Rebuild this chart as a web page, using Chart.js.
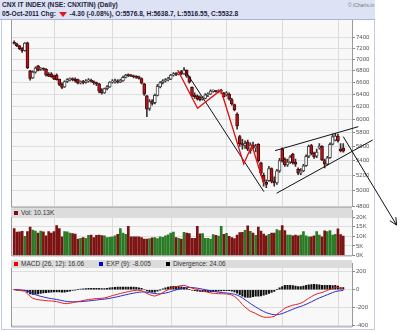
<!DOCTYPE html>
<html>
<head>
<meta charset="utf-8">
<title>CNX IT INDEX</title>
<script src="https://cdn.jsdelivr.net/npm/chart.js@4.4.1/dist/chart.umd.min.js"></script>
<style>
  html, body { margin: 0; padding: 0; background: #fff; }
  #wrap { position: relative; width: 400px; height: 331px; overflow: hidden; font-family: "Liberation Sans", Arial, sans-serif; }
  #frame { position: absolute; left: 1px; top: 0; width: 372px; height: 329px; border: 1px solid #c3cdea; border-top: none; }
  #head { position: absolute; left: 0; top: 0; width: 375px; height: 19px; background: #dde3f5; border-bottom: 1px solid #aab4d4; color: #1d1d3a; font-weight: bold; font-size: 6.6px; line-height: 8px; z-index: 1; }
  #head .t1 { position: absolute; left: 2px; top: 1px; white-space: nowrap; }
  #head .t2 { position: absolute; left: 2px; top: 10px; white-space: nowrap; }
  #head .src { position: absolute; left: 348px; top: 1px; font-weight: normal; font-size: 5px; color: #777; white-space: nowrap; }
  .dn { display: inline-block; width: 0; height: 0; border-left: 4px solid transparent; border-right: 4px solid transparent; border-top: 5px solid #e01818; vertical-align: middle; margin: 0 1px; }
  .strip { position: absolute; left: 11px; width: 341px; background: #dcdcdc; color: #333; font-size: 6.5px; line-height: 9px; white-space: nowrap; z-index: 2; }
  .strip i { display: inline-block; width: 4px; height: 4px; margin: 0 3px 0 3px; vertical-align: 0; }
  .strip span { margin-right: 12px; }
  canvas { position: absolute; left: 0; }
  #volCanvas { top: 206px; z-index: 1; }
  #macdCanvas { top: 259px; z-index: 1; }
  #priceCanvas { top: 0; z-index: 3; pointer-events: none; }
</style>
</head>
<body>
<div id="wrap">
  <div id="frame"></div>
  <div id="head">
    <div class="t1">CNX IT INDEX (NSE: CNXITIN) (Daily)</div>
    <div class="t2" id="quote"></div>
    <div class="src">© iCharts.in</div>
  </div>
  <canvas id="volCanvas" width="400" height="54"></canvas>
  <canvas id="macdCanvas" width="400" height="72"></canvas>
  <div class="strip" id="volStrip" style="top:208px;height:9px;"></div>
  <div class="strip" id="macdStrip" style="top:260px;height:8px;line-height:8px;"></div>
  <canvas id="priceCanvas" width="400" height="235"></canvas>
</div>
<script>
// -------- Daily OHLC, CNX IT, Apr - Oct 2011 --------
const lastDate = "05-Oct-2011";
const opens = [
  7300, 7275, 7240, 7195, 7150, 7295, 6790, 6670, 6770, 6880,
  6820, 6830, 6820, 6730, 6740, 6700, 6720, 6650, 6560, 6520,
  6610, 6640, 6650, 6650, 6640, 6590, 6600, 6590, 6620, 6630,
  6610, 6590, 6570, 6470, 6420, 6490, 6520, 6600, 6600, 6620,
  6600, 6620, 6680, 6720, 6710, 6700, 6690, 6690, 6660, 6570,
  6370, 6170, 6290, 6260, 6380, 6520, 6590, 6620, 6640, 6650,
  6720, 6740, 6730, 6780, 6740, 6800, 6690, 6510, 6380, 6370,
  6350, 6320, 6330, 6390, 6400, 6450, 6450, 6440, 6450, 6420,
  6390, 6400, 6310, 6230, 6080, 5740, 5640, 5610, 5660, 5540,
  5620, 5580, 5630, 5370, 5200, 5110, 5130, 5290, 5120, 5100,
  5260, 5560, 5420, 5340, 5380, 5490, 5380, 5280, 5230, 5260,
  5330, 5460, 5610, 5500, 5460, 5580, 5600, 5400, 5350, 5440,
  5630, 5690, 5750, 5560, 5576.8
];
const highs = [
  7335, 7290, 7250, 7210, 7300, 7310, 6800, 6790, 6860, 6890,
  6850, 6845, 6830, 6760, 6760, 6720, 6740, 6650, 6590, 6620,
  6660, 6670, 6670, 6670, 6650, 6620, 6630, 6640, 6660, 6650,
  6620, 6600, 6580, 6490, 6500, 6540, 6610, 6640, 6650, 6640,
  6650, 6700, 6730, 6740, 6730, 6720, 6710, 6700, 6670, 6580,
  6380, 6310, 6310, 6400, 6560, 6610, 6640, 6660, 6680, 6730,
  6760, 6760, 6780, 6800, 6850, 6810, 6700, 6520, 6420, 6390,
  6370, 6360, 6410, 6420, 6470, 6470, 6460, 6470, 6480, 6430,
  6440, 6420, 6330, 6240, 6100, 5760, 5700, 5680, 5690, 5650,
  5660, 5630, 5640, 5380, 5230, 5140, 5320, 5300, 5180, 5280,
  5430, 5580, 5440, 5420, 5470, 5500, 5420, 5300, 5290, 5350,
  5480, 5620, 5630, 5520, 5560, 5640, 5610, 5420, 5460, 5650,
  5780, 5790, 5780, 5640, 5638.7
];
const lows = [
  7270, 7225, 7170, 7120, 7140, 6830, 6630, 6660, 6750, 6790,
  6800, 6800, 6700, 6690, 6680, 6640, 6630, 6540, 6490, 6510,
  6590, 6620, 6620, 6600, 6570, 6570, 6570, 6580, 6600, 6600,
  6560, 6540, 6420, 6400, 6410, 6470, 6510, 6580, 6580, 6580,
  6590, 6610, 6670, 6690, 6690, 6670, 6660, 6650, 6570, 6380,
  6040, 6140, 6220, 6240, 6370, 6500, 6570, 6600, 6620, 6640,
  6700, 6710, 6720, 6720, 6730, 6680, 6580, 6360, 6330, 6300,
  6290, 6300, 6320, 6360, 6390, 6430, 6430, 6420, 6410, 6350,
  6370, 6300, 6220, 6130, 5850, 5600, 5560, 5570, 5540, 5500,
  5560, 5520, 5380, 5200, 5060, 5040, 5120, 5100, 5060, 5080,
  5240, 5380, 5320, 5320, 5360, 5350, 5320, 5210, 5210, 5250,
  5320, 5440, 5480, 5430, 5440, 5560, 5400, 5300, 5340, 5430,
  5620, 5680, 5660, 5520, 5516.55
];
const closes = [
  7285, 7240, 7190, 7150, 7290, 6845, 6660, 6770, 6840, 6800,
  6830, 6820, 6720, 6700, 6690, 6650, 6640, 6560, 6510, 6610,
  6640, 6650, 6640, 6620, 6580, 6600, 6590, 6620, 6630, 6610,
  6590, 6570, 6450, 6420, 6490, 6520, 6600, 6610, 6620, 6600,
  6630, 6680, 6720, 6710, 6700, 6690, 6680, 6660, 6580, 6400,
  6160, 6280, 6250, 6380, 6530, 6590, 6620, 6640, 6650, 6720,
  6740, 6730, 6760, 6740, 6810, 6700, 6600, 6380, 6360, 6320,
  6310, 6330, 6390, 6400, 6450, 6450, 6440, 6450, 6460, 6360,
  6420, 6320, 6240, 6150, 5900, 5640, 5620, 5640, 5560, 5620,
  5580, 5600, 5400, 5230, 5120, 5080, 5290, 5120, 5100, 5260,
  5400, 5400, 5340, 5380, 5450, 5370, 5350, 5230, 5260, 5330,
  5460, 5600, 5500, 5450, 5520, 5600, 5410, 5350, 5440, 5630,
  5740, 5750, 5680, 5537.1, 5532.8
];
// volume in thousands
const volumes = [
  14.1, 12.2, 12.4, 12.6, 10.0, 12.5, 14.8, 13.3, 12.8, 11.7,
  12.8, 12.4, 10.2, 12.5, 11.7, 12.5, 15.6, 14.1, 9.8, 12.5,
  12.4, 11.7, 11.5, 11.2, 8.6, 9.0, 9.4, 9.0, 10.5, 10.6,
  9.4, 10.5, 10.6, 10.4, 10.2, 9.4, 9.5, 9.8, 10.2, 11.0,
  14.1, 11.7, 11.0, 15.2, 9.8, 9.8, 9.8, 9.8, 9.4, 8.6,
  8.6, 8.8, 9.2, 9.4, 8.8, 9.8, 9.5, 10.2, 10.8, 11.7,
  12.2, 9.4, 9.0, 8.6, 12.1, 11.7, 11.4, 9.0, 8.9, 15.2,
  11.3, 11.4, 9.0, 9.0, 8.6, 10.9, 10.5, 10.1, 15.2, 11.0,
  11.6, 10.0, 9.3, 8.8, 10.6, 12.0, 12.1, 13.1, 15.5, 12.6,
  11.7, 10.5, 14.8, 12.8, 11.2, 10.2, 11.0, 11.7, 11.7, 13.6,
  13.0, 15.6, 13.0, 10.6, 10.6, 10.2, 10.6, 10.2, 10.6, 12.5,
  10.2, 9.8, 9.8, 10.2, 12.5, 10.6, 9.8, 12.9, 12.5, 13.0,
  10.6, 11.0, 14.0, 10.9, 10.13
];
// MACD (26,12), signal EXP (9), divergence
const macdLine = [
  0, -2, -6, -12, -18, -45, -75, -95, -105, -112,
  -115, -118, -122, -124, -126, -128, -133, -140, -148, -154,
  -155, -150, -144, -138, -132, -127, -120, -115, -110, -106,
  -102, -99, -97, -96, -92, -85, -75, -66, -58, -50,
  -42, -35, -28, -22, -16, -10, -7, -6, -10, -25,
  -42, -55, -65, -71, -62, -48, -32, -15, 0, 15,
  27, 35, 40, 46, 48, 40, 28, 18, 10, 2,
  -8, -16, -22, -28, -36, -40, -42, -44, -45, -46,
  -47, -52, -60, -75, -98, -130, -165, -195, -218, -240,
  -252, -265, -282, -295, -305, -308, -306, -304, -298, -275,
  -252, -230, -205, -192, -182, -172, -166, -160, -150, -135,
  -115, -95, -78, -60, -47, -38, -32, -20, -8, 4,
  15, 27, 25, 14, 16.06
];
const signalLine = [
  0, -1, -2, -4, -7, -15, -28, -42, -55, -65,
  -74, -81, -88, -94, -99, -104, -109, -115, -121, -127,
  -132, -134, -135, -135, -134, -133, -131, -128, -125, -122,
  -118, -115, -111, -108, -105, -101, -96, -90, -84, -78,
  -71, -64, -57, -50, -44, -38, -33, -28, -25, -25,
  -28, -33, -38, -43, -46, -46, -43, -37, -30, -21,
  -11, -2, 6, 14, 21, 25, 26, 24, 21, 17,
  12, 6, 0, -6, -12, -18, -23, -27, -31, -34,
  -37, -40, -44, -50, -60, -74, -92, -112, -133, -154,
  -174, -192, -210, -227, -243, -256, -266, -274, -279, -279,
  -274, -266, -254, -242, -230, -218, -206, -195, -186, -175,
  -163, -149, -135, -120, -105, -92, -80, -68, -56, -44,
  -32, -21, -15, -11, -8.005
];
const divergence = [
  0, -1, -4, -8, -11, -30, -47, -53, -50, -47,
  -41, -37, -34, -30, -27, -24, -24, -25, -27, -27,
  -23, -16, -9, -3, 2, 6, 11, 13, 15, 16,
  16, 16, 14, 12, 13, 16, 21, 24, 26, 28,
  29, 29, 29, 28, 28, 28, 26, 22, 15, 0,
  -14, -22, -27, -28, -16, -2, 11, 22, 30, 36,
  38, 37, 34, 32, 27, 15, 2, -6, -11, -15,
  -20, -22, -22, -22, -24, -22, -19, -17, -14, -12,
  -10, -12, -16, -25, -38, -56, -73, -83, -85, -86,
  -78, -73, -72, -68, -62, -52, -40, -30, -19, 4,
  22, 36, 49, 50, 48, 46, 40, 35, 36, 40,
  48, 54, 57, 60, 58, 54, 48, 48, 48, 48,
  47, 48, 40, 25, 24.06
];
// index of first session of May .. Oct
const monthStarts = [15, 37, 59, 80, 101, 122];
const priceTicks = [4800, 5000, 5200, 5400, 5600, 5800, 6000, 6200, 6400, 6600, 6800, 7000, 7200, 7400];
const volumeTicks = [0, 5, 10, 15, 20];
const macdTicks = [-400, -200, 0, 200];

// hand drawn studies, [session index, price]
const fallLine = [[64.1, 6819], [94.1, 4988]];
const wedgeUpper = [[98.3, 5539], [129.7, 5889]];
const wedgeLower = [[98.9, 4968], [135.1, 5692]];
const swingPath = [[61.6, 6807], [69.1, 6172], [77.9, 6468], [86.5, 5354], [89.6, 5613], [94.0, 5096]];
const breakArrow = [[124.0, 5741], [144.1, 4580]];

// -------- Header texts --------
const n = closes.length - 1;
const chg = closes[n] - closes[n - 1];
document.getElementById("quote").innerHTML =
  `${lastDate} Chg: <span class="dn"></span> ${chg.toFixed(2)} (${(chg / closes[n - 1] * 100).toFixed(2)}%), ` +
  `O:${opens[n]}, H:${highs[n]}, L:${lows[n]}, C:${closes[n]}`;
document.getElementById("volStrip").innerHTML =
  `<i style="background:#7a1010"></i>Vol: ${volumes[n]}K`;
document.getElementById("macdStrip").innerHTML =
  `<span><i style="background:#e00"></i>MACD (26, 12): ${macdLine[n]}</span>` +
  `<span><i style="background:#0000d0"></i>EXP (9): ${signalLine[n]}</span>` +
  `<span><i style="background:#000"></i>Divergence: ${divergence[n]}</span>`;

// -------- Shared pieces --------
const days = closes.map((_, i) => i);
const isUp = i => closes[i] >= opens[i];
const tickFont = { family: "Liberation Sans", size: 6 };
const xAxis = { type: "linear", min: -1.206, max: 127.3, offset: false, display: false };

function rightAxis(extra) {
  return Object.assign({
    position: "right",
    afterFit: s => { s.width = 48; },
    grid: { color: "#dedede", lineWidth: 1, drawTicks: true, tickLength: 3, tickColor: "#888" },
    border: { display: true, color: "#9a9a9a" },
    ticks: { color: "#555", font: tickFont, padding: 1, autoSkip: false }
  }, extra);
}

const panelFrame = {
  id: "panelFrame",
  beforeDraw(chart) {
    const { ctx, chartArea: a, scales: { x } } = chart;
    ctx.save();
    ctx.fillStyle = "#f8f8f8";
    ctx.fillRect(a.left, a.top, a.width, a.height);
    ctx.strokeStyle = "#dcdcdc";
    ctx.lineWidth = 1;
    monthStarts.forEach(i => {
      const px = Math.round(x.getPixelForValue(i)) + 0.5;
      ctx.beginPath();
      ctx.moveTo(px, a.top);
      ctx.lineTo(px, a.bottom);
      ctx.stroke();
    });
    ctx.restore();
  },
  afterDraw(chart) {
    const { ctx, chartArea: a } = chart;
    ctx.save();
    ctx.strokeStyle = "#9a9a9a";
    ctx.lineWidth = 1;
    ctx.beginPath();
    ctx.moveTo(a.left + 0.5, a.top);
    ctx.lineTo(a.left + 0.5, a.bottom + 0.5);
    ctx.lineTo(a.right, a.bottom + 0.5);
    ctx.stroke();
    ctx.restore();
  }
};

const studies = {
  id: "studies",
  afterDatasetsDraw(chart) {
    const { ctx, scales: { x, y } } = chart;
    const px = ([i, p]) => [x.getPixelForValue(i), y.getPixelForValue(p)];
    const path = pts => {
      ctx.beginPath();
      pts.map(px).forEach(([a, b], k) => k ? ctx.lineTo(a, b) : ctx.moveTo(a, b));
      ctx.stroke();
    };
    ctx.save();
    ctx.strokeStyle = "#111";
    ctx.lineWidth = 1;
    [fallLine, wedgeUpper, wedgeLower, breakArrow].forEach(path);
    // arrow head
    const [x1, y1] = px(breakArrow[0]), [x2, y2] = px(breakArrow[1]);
    const ang = Math.atan2(y2 - y1, x2 - x1);
    ctx.beginPath();
    ctx.moveTo(x2 - 8 * Math.cos(ang - 0.45), y2 - 8 * Math.sin(ang - 0.45));
    ctx.lineTo(x2, y2);
    ctx.lineTo(x2 - 8 * Math.cos(ang + 0.45), y2 - 8 * Math.sin(ang + 0.45));
    ctx.stroke();
    ctx.strokeStyle = "#e01010";
    ctx.lineWidth = 1.3;
    path(swingPath);
    ctx.restore();
  }
};

const baseOpts = {
  responsive: false,
  animation: false,
  events: [],
  plugins: { legend: { display: false }, tooltip: { enabled: false } }
};

// -------- Price candles --------
new Chart(document.getElementById("priceCanvas"), {
  type: "bar",
  data: {
    datasets: [
      {
        order: 0,
        grouped: false,
        barThickness: 3,
        minBarLength: 1,
        data: days.map(i => ({ x: i, y: [opens[i], closes[i]] })),
        backgroundColor: c => isUp(c.dataIndex) ? "#ffffff" : "#b8151b",
        borderColor: c => isUp(c.dataIndex) ? "#444" : "#4a0606",
        borderWidth: 1,
        borderSkipped: false
      },
      {
        order: 1,
        grouped: false,
        barThickness: 1,
        data: days.map(i => ({ x: i, y: [lows[i], highs[i]] })),
        backgroundColor: "#333"
      }
    ]
  },
  options: Object.assign({}, baseOpts, {
    layout: { padding: { left: 11, right: 0, top: 20, bottom: 28.3 } },
    scales: {
      x: xAxis,
      y: rightAxis({
        type: "logarithmic",
        min: 4800,
        max: 7734,
        afterBuildTicks: s => { s.ticks = priceTicks.map(v => ({ value: v })); },
        ticks: { color: "#555", font: tickFont, padding: 1, autoSkip: false, callback: v => String(v) }
      })
    }
  }),
  plugins: [panelFrame, studies]
});

// -------- Volume --------
new Chart(document.getElementById("volCanvas"), {
  type: "bar",
  data: {
    datasets: [{
      barThickness: 2,
      data: days.map(i => ({ x: i, y: volumes[i] })),
      backgroundColor: c => isUp(c.dataIndex) ? "#2b7a26" : "#7c1212"
    }]
  },
  options: Object.assign({}, baseOpts, {
    layout: { padding: { left: 11, right: 0, top: 2, bottom: 2 } },
    scales: {
      x: xAxis,
      y: rightAxis({
        min: 0,
        max: 23.5,
        afterBuildTicks: s => { s.ticks = volumeTicks.map(v => ({ value: v })); },
        ticks: { color: "#555", font: tickFont, padding: 1, autoSkip: false, callback: v => v + "K" }
      })
    }
  }),
  plugins: [panelFrame]
});

// -------- MACD --------
new Chart(document.getElementById("macdCanvas"), {
  type: "bar",
  data: {
    datasets: [
      {
        type: "line", order: 0,
        data: days.map(i => ({ x: i, y: macdLine[i] })),
        borderColor: "#e52020", borderWidth: 1, pointRadius: 0, tension: 0
      },
      {
        type: "line", order: 1,
        data: days.map(i => ({ x: i, y: signalLine[i] })),
        borderColor: "#2a2ad6", borderWidth: 1, pointRadius: 0, tension: 0
      },
      {
        order: 2,
        barThickness: 1.4,
        data: days.map(i => ({ x: i, y: divergence[i] })),
        backgroundColor: "#111"
      }
    ]
  },
  options: Object.assign({}, baseOpts, {
    layout: { padding: { left: 11, right: 0, top: 1, bottom: 2 } },
    scales: {
      x: xAxis,
      y: rightAxis({
        min: -409,
        max: 291,
        afterBuildTicks: s => { s.ticks = macdTicks.map(v => ({ value: v })); },
        ticks: { color: "#555", font: tickFont, padding: 1, autoSkip: false, callback: v => String(v) }
      })
    }
  }),
  plugins: [panelFrame]
});
</script>
</body>
</html>
